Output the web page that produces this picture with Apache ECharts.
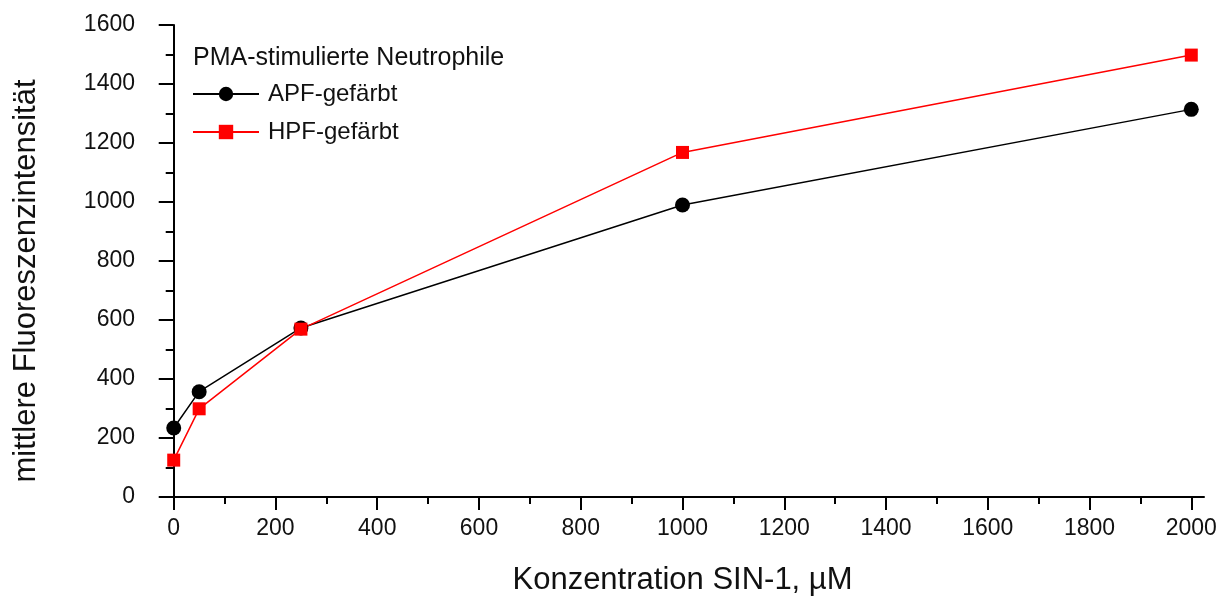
<!DOCTYPE html>
<html><head><meta charset="utf-8">
<script src="https://cdn.jsdelivr.net/npm/echarts@6/dist/echarts.min.js"></script>
<style>html,body{margin:0;padding:0;background:#fff}#c{width:1228px;height:601px}</style>
</head><body><div id="c"></div>
<script>
const concentrations = [0, 50, 250, 1000, 2000];
const apfValues = [234, 357, 573, 990, 1314];
const hpfValues = [125, 299, 569, 1168, 1498];
const xMajorTicks = [0, 200, 400, 600, 800, 1000, 1200, 1400, 1600, 1800, 2000];
const xMinorTicks = [100, 300, 500, 700, 900, 1100, 1300, 1500, 1700, 1900];
const legendTitle = 'PMA-stimulierte Neutrophile';
const seriesNames = ['APF-gefärbt', 'HPF-gefärbt'];
const xName = 'Konzentration SIN-1, µM';
const yName = 'mittlere Fluoreszenzintensität';

const font = 'Liberation Sans, Arial, sans-serif';
const chart = echarts.init(document.getElementById('c'));
const pairs = (xs, ys) => xs.map((x, i) => [x, ys[i]]);
const axisLineStyle = {color: '#000', width: 2};
const plain = v => String(v);
chart.setOption({
  animation: false,
  title: {text: legendTitle, left: 188, top: 41, textStyle: {fontFamily: font, fontSize: 25, fontWeight: 'normal', color: '#111'}},
  legend: {
    orient: 'vertical', left: 187, top: 77, itemWidth: 66, itemHeight: 18, itemGap: 14,
    textStyle: {fontFamily: font, fontSize: 24, color: '#111', padding: [0, 0, 0, 4]},
    data: seriesNames
  },
  grid: {left: 161, right: 24, top: 25, bottom: 104},
  xAxis: [{
    type: 'value', min: -25, max: 2025,
    name: xName, nameLocation: 'middle', nameGap: 68,
    nameTextStyle: {fontFamily: font, fontSize: 31, color: '#111'},
    axisLine: {lineStyle: axisLineStyle},
    axisTick: {customValues: xMajorTicks, length: 13, inside: false, lineStyle: {color: '#000', width: 2}},
    axisLabel: {customValues: xMajorTicks, formatter: plain, fontFamily: font, fontSize: 23, color: '#111', margin: 20},
    splitLine: {show: false}
  }, {
    type: 'value', min: -25, max: 2025, position: 'bottom',
    axisLine: {show: false},
    axisTick: {customValues: xMinorTicks, length: 7, lineStyle: {color: '#000', width: 2}},
    axisLabel: {show: false},
    splitLine: {show: false}
  }],
  yAxis: {
    type: 'value', min: 0, max: 1600, interval: 200,
    name: yName, nameLocation: 'middle', nameGap: 119,
    nameTextStyle: {fontFamily: font, fontSize: 31, color: '#111', padding: [0, 40, 0, 0]},
    axisLine: {show: true, lineStyle: axisLineStyle},
    axisTick: {length: 15, lineStyle: {color: '#000', width: 2}},
    minorTick: {show: true, splitNumber: 2, length: 8, lineStyle: {color: '#000', width: 2}},
    axisLabel: {formatter: plain, fontFamily: font, fontSize: 23, color: '#111', margin: 26},
    splitLine: {show: false}
  },
  series: [{
    name: seriesNames[0], type: 'line', data: pairs(concentrations, apfValues),
    symbol: 'circle', symbolSize: 15, itemStyle: {color: '#000'},
    lineStyle: {color: '#000', width: 1.5}
  }, {
    name: seriesNames[1], type: 'line', data: pairs(concentrations, hpfValues),
    symbol: 'rect', symbolSize: 13, itemStyle: {color: '#ff0000'},
    lineStyle: {color: '#ff0000', width: 1.5}
  }]
});
</script></body></html>
